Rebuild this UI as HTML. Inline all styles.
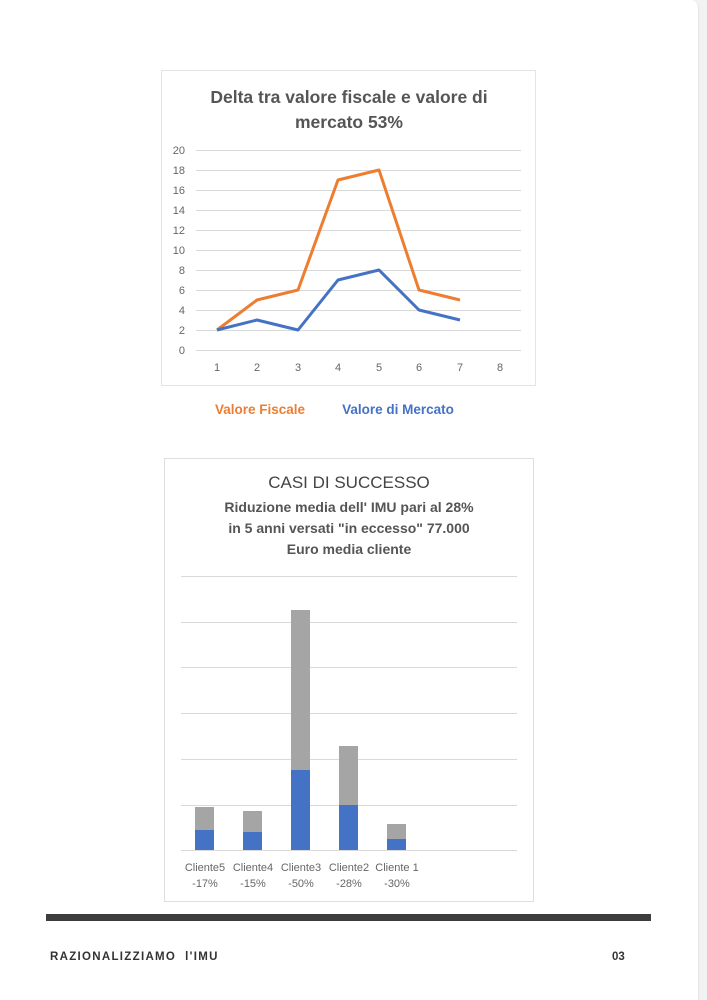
<!DOCTYPE html>
<html><head><meta charset="utf-8"><style>
html,body{margin:0;padding:0;}
body{width:707px;height:987px;background:#f2f2f2;position:relative;overflow:hidden;font-family:"Liberation Sans",sans-serif;}
.card{position:absolute;left:0;top:0;width:698px;height:1000px;background:#fff;border-radius:0 8px 0 0;border-right:1px solid #e6e6e6;}
svg{position:absolute;left:0;top:0;}
</style></head><body>
<div class="card"></div>
<svg width="707" height="987" xmlns="http://www.w3.org/2000/svg" font-family="Liberation Sans, sans-serif">
<!-- Chart 1 -->
<rect x="161.5" y="70.5" width="374" height="315" fill="#fff" stroke="#e4e4e4"/>
<text x="349" y="103" text-anchor="middle" font-size="17.5" font-weight="bold" fill="#555">Delta tra valore fiscale e valore di</text>
<text x="349" y="128" text-anchor="middle" font-size="17.5" font-weight="bold" fill="#555">mercato 53%</text>
<g stroke="#d9d9d9" stroke-width="1">
<line x1="196" x2="521" y1="150.5" y2="150.5"/><line x1="196" x2="521" y1="170.5" y2="170.5"/>
<line x1="196" x2="521" y1="190.5" y2="190.5"/><line x1="196" x2="521" y1="210.5" y2="210.5"/>
<line x1="196" x2="521" y1="230.5" y2="230.5"/><line x1="196" x2="521" y1="250.5" y2="250.5"/>
<line x1="196" x2="521" y1="270.5" y2="270.5"/><line x1="196" x2="521" y1="290.5" y2="290.5"/>
<line x1="196" x2="521" y1="310.5" y2="310.5"/><line x1="196" x2="521" y1="330.5" y2="330.5"/>
<line x1="196" x2="521" y1="350.5" y2="350.5"/>
</g>
<g font-size="11" fill="#666" text-anchor="end">
<text x="185" y="154">20</text><text x="185" y="174">18</text><text x="185" y="194">16</text>
<text x="185" y="214">14</text><text x="185" y="234">12</text><text x="185" y="254">10</text>
<text x="185" y="274">8</text><text x="185" y="294">6</text><text x="185" y="314">4</text>
<text x="185" y="334">2</text><text x="185" y="354">0</text>
</g>
<g font-size="11" fill="#666" text-anchor="middle">
<text x="217" y="371">1</text><text x="257" y="371">2</text><text x="298" y="371">3</text>
<text x="338" y="371">4</text><text x="379" y="371">5</text><text x="419" y="371">6</text>
<text x="460" y="371">7</text><text x="500" y="371">8</text>
</g>
<polyline fill="none" stroke="#ed7d31" stroke-width="3" stroke-linejoin="round" points="217,330 257,300 298,290 338,180 379,170 419,290 460,300"/>
<polyline fill="none" stroke="#4472c4" stroke-width="3" stroke-linejoin="round" points="217,330 257,320 298,330 338,280 379,270 419,310 460,320"/>
<text x="260" y="414" text-anchor="middle" font-size="13.5" font-weight="bold" fill="#ed7d31">Valore Fiscale</text>
<text x="398" y="414" text-anchor="middle" font-size="13.5" font-weight="bold" fill="#4472c4">Valore di Mercato</text>
<!-- Chart 2 -->
<rect x="164.5" y="458.5" width="369" height="443" fill="#fff" stroke="#dedede"/>
<text x="349" y="488" text-anchor="middle" font-size="17" fill="#444">CASI DI SUCCESSO</text>
<text x="349" y="512" text-anchor="middle" font-size="14" font-weight="bold" fill="#555">Riduzione media dell' IMU pari al 28%</text>
<text x="349" y="533" text-anchor="middle" font-size="14" font-weight="bold" fill="#555">in 5 anni versati "in eccesso" 77.000</text>
<text x="349" y="554" text-anchor="middle" font-size="14" font-weight="bold" fill="#555">Euro media cliente</text>
<g stroke="#d9d9d9">
<line x1="181" x2="517" y1="576.5" y2="576.5"/><line x1="181" x2="517" y1="622.5" y2="622.5"/>
<line x1="181" x2="517" y1="667.5" y2="667.5"/><line x1="181" x2="517" y1="713.5" y2="713.5"/>
<line x1="181" x2="517" y1="759.5" y2="759.5"/><line x1="181" x2="517" y1="805.5" y2="805.5"/>
<line x1="181" x2="517" y1="850.5" y2="850.5"/>
</g>
<g fill="#a5a5a5">
<rect x="195" y="807" width="19" height="23"/><rect x="243" y="811" width="19" height="21"/>
<rect x="291" y="610" width="19" height="160"/><rect x="339" y="746" width="19" height="59"/>
<rect x="387" y="824" width="19" height="15"/>
</g>
<g fill="#4472c4">
<rect x="195" y="830" width="19" height="20"/><rect x="243" y="832" width="19" height="18"/>
<rect x="291" y="770" width="19" height="80"/><rect x="339" y="805" width="19" height="45"/>
<rect x="387" y="839" width="19" height="11"/>
</g>
<g font-size="11" fill="#666" text-anchor="middle">
<text x="205" y="871">Cliente5</text><text x="253" y="871">Cliente4</text><text x="301" y="871">Cliente3</text>
<text x="349" y="871">Cliente2</text><text x="397" y="871">Cliente 1</text>
<text x="205" y="887">-17%</text><text x="253" y="887">-15%</text><text x="301" y="887">-50%</text>
<text x="349" y="887">-28%</text><text x="397" y="887">-30%</text>
</g>
<!-- footer -->
<rect x="46" y="914" width="605" height="7" fill="#3d3d3d"/>
<text x="50" y="960" font-size="11.5" font-weight="bold" fill="#333" letter-spacing="1.3" xml:space="preserve">RAZIONALIZZIAMO  l'IMU</text>
<text x="612" y="960" font-size="11.5" font-weight="bold" fill="#333">03</text>
</svg>
</body></html>
